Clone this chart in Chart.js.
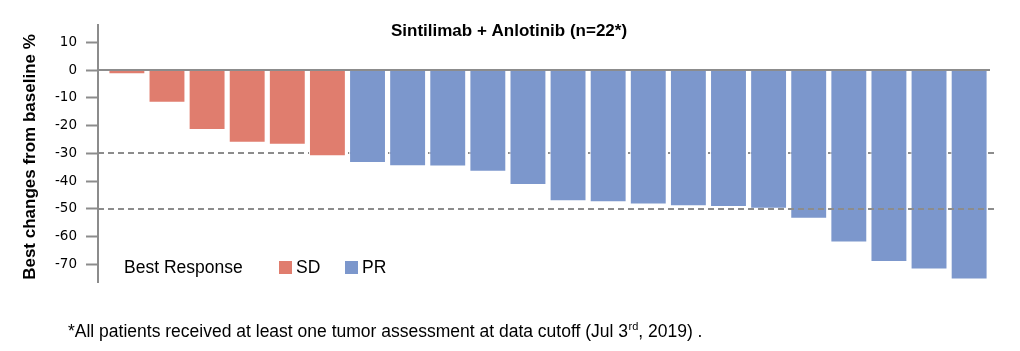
<!DOCTYPE html>
<html>
<head>
<meta charset="utf-8">
<script src="https://cdn.jsdelivr.net/npm/chart.js@4/dist/chart.umd.min.js"></script>
<style>
  html, body { margin: 0; padding: 0; background: #fff; }
  #wrap { width: 1020px; height: 351px; position: relative; }
</style>
</head>
<body>
<div id="wrap"><canvas id="myChart" width="1020" height="351"></canvas></div>
<script>
const patients = ['1','2','3','4','5','6','7','8','9','10','11','12','13','14','15','16','17','18','19','20','21','22'];
const bestChange = [-1.5, -11.8, -21.6, -26.2, -26.9, -31.0, -33.5, -34.6, -34.7, -36.6, -41.4,
  -47.2, -47.6, -48.4, -49.0, -49.3, -49.9, -53.5, -62.1, -69.1, -71.8, -75.4];
const bestResponse = ['SD','SD','SD','SD','SD','SD','PR','PR','PR','PR','PR',
  'PR','PR','PR','PR','PR','PR','PR','PR','PR','PR','PR'];
const yTicks = [10, 0, -10, -20, -30, -40, -50, -60, -70];
const refLines = [-30, -50];
const responseTypes = ['SD', 'PR'];

const colors = { SD: '#E07D6E', PR: '#7C97CC' };
const axisGray = '#8c8c8c';

function hline(chart, value, dash) {
  const { ctx, chartArea: { left, right } } = chart;
  const y = Math.round(chart.scales.y.getPixelForValue(value));
  ctx.save();
  ctx.strokeStyle = axisGray;
  ctx.lineWidth = 2;
  ctx.setLineDash(dash);
  ctx.beginPath();
  ctx.moveTo(left, y);
  ctx.lineTo(dash.length ? right + 5 : right, y);
  ctx.stroke();
  ctx.restore();
}

const lines = {
  id: 'lines',
  beforeDatasetsDraw: (chart) => {
    hline(chart, refLines[0], [6, 4]);
  },
  afterDatasetsDraw: (chart) => {
    hline(chart, refLines[1], [6, 4]);
    hline(chart, 0, []);
  }
};

const texts = {
  id: 'texts',
  afterDraw: (chart) => {
    const ctx = chart.ctx;
    ctx.save();
    ctx.fillStyle = '#000';
    ctx.textBaseline = 'middle';

    // title
    ctx.font = 'bold 17px "Liberation Sans", Arial, sans-serif';
    ctx.textAlign = 'center';
    ctx.fillText('Sintilimab + Anlotinib (n=22*)', 509, 31);

    // y axis title
    ctx.save();
    ctx.translate(30, 157);
    ctx.rotate(-Math.PI / 2);
    ctx.fillText('Best changes from baseline %', 0, 0);
    ctx.restore();

    // legend
    ctx.font = '17.5px "Liberation Sans", Arial, sans-serif';
    ctx.textAlign = 'left';
    ctx.fillText('Best Response', 124, 268);
    let x = 279;
    responseTypes.forEach((r) => {
      ctx.fillStyle = colors[r];
      ctx.fillRect(x, 261, 13, 13);
      ctx.fillStyle = '#000';
      ctx.fillText(r, x + 17, 268);
      x += 66;
    });

    // footnote
    ctx.textBaseline = 'alphabetic';
    ctx.font = '17.5px "Liberation Sans", Arial, sans-serif';
    let fx = 68;
    const part1 = '*All patients received at least one tumor assessment at data cutoff (Jul 3';
    ctx.fillText(part1, fx, 336.5);
    fx += ctx.measureText(part1).width + 0.5;
    ctx.font = '11px "Liberation Sans", Arial, sans-serif';
    ctx.fillText('rd', fx, 330);
    fx += ctx.measureText('rd').width;
    ctx.font = '17.5px "Liberation Sans", Arial, sans-serif';
    ctx.fillText(', 2019) .', fx, 336.5);
    ctx.restore();
  }
};

new Chart(document.getElementById('myChart').getContext('2d'), {
  type: 'bar',
  data: {
    labels: patients,
    datasets: [{
      data: bestChange.map((v, i) => ({ x: i, y: v })),
      backgroundColor: bestResponse.map((r) => colors[r]),
      borderColor: '#ffffff',
      borderWidth: 1,
      categoryPercentage: 1,
      barPercentage: 0.92,
    }]
  },
  options: {
    responsive: false,
    animation: false,
    layout: { padding: { top: 25, right: 30, bottom: 69, left: 0 } },
    scales: {
      x: {
        type: 'linear',
        offset: false,
        min: -0.72,
        max: 21.52,
        display: false,
      },
      y: {
        min: -76.3,
        max: 16.2,
        afterFit: (scale) => {
          scale.width = 98;
        },
        afterBuildTicks: (scale) => {
          scale.ticks = yTicks.map((v) => ({ value: v }));
        },
        border: { color: axisGray, width: 2 },
        grid: {
          drawOnChartArea: false,
          tickLength: 12,
          tickColor: axisGray,
          tickWidth: 2,
        },
        ticks: {
          padding: 9,
          color: '#000',
          font: { family: '"DejaVu Sans", sans-serif', size: 13.5 },
        },
      },
    },
    plugins: {
      legend: { display: false },
      tooltip: { enabled: false },
    },
  },
  plugins: [lines, texts]
});
</script>
</body>
</html>
